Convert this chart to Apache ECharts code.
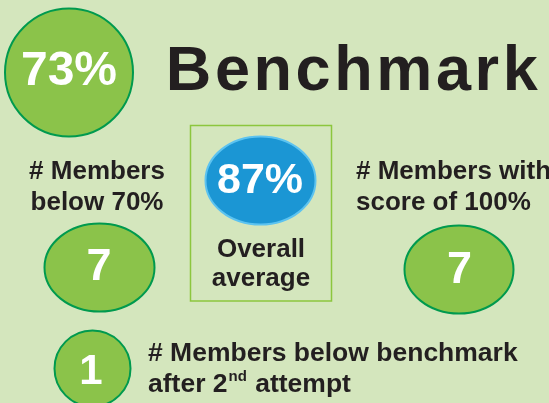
<!DOCTYPE html>
<html>
<head>
<meta charset="utf-8">
<script src="https://cdn.jsdelivr.net/npm/echarts@6/dist/echarts.min.js"></script>
<style>
  html, body { margin: 0; padding: 0; background: #d4e6bd; }
  #main { width: 549px; height: 403px; }
</style>
</head>
<body>
<div id="main"></div>
<script>
// values shown in the badges
const benchmark = ['73%'];
const overallAverage = ['87%'];
const memberCounts = [7, 7, 1];

// captions
const title = 'Benchmark';
const averageLabel = 'Overall\naverage';
const countLabels = [
  '# Members\nbelow 70%',
  '# Members with\nscore of 100%',
  '# Members below benchmark\nafter 2{sup|nd} attempt'
];

const FONT = '"Liberation Sans", Arial, Helvetica, sans-serif';
const DARK = '#231f20';
const GREEN = '#8bc34a';
const GREEN_EDGE = '#009a4e';
const BLUE = '#1b96d4';
const BLUE_EDGE = '#5cc3f0';

// spaced-out title, one token per letter
const spacedTitle = title.split('').map(c => '{l|' + c + '}').join('');

let chart = echarts.init(document.getElementById('main'), null, { renderer: 'canvas' });

let option = {
  backgroundColor: '#d4e6bd',
  animation: false,
  graphic: [
    // 73% badge
    {
      type: 'circle',
      shape: { cx: 69, cy: 72.5, r: 64 },
      style: { fill: GREEN, stroke: GREEN_EDGE, lineWidth: 2 }
    },
    {
      type: 'text',
      style: {
        text: benchmark[0], x: 69, y: 72,
        align: 'center', verticalAlign: 'middle',
        fontFamily: FONT, fontWeight: 'bold', fontSize: 48, fill: '#fff'
      }
    },
    {
      type: 'text',
      style: {
        text: spacedTitle, x: 164, y: 73,
        align: 'left', verticalAlign: 'middle',
        rich: {
          l: { fontFamily: FONT, fontWeight: 'bold', fontSize: 63, fill: DARK, padding: [0, 1.8, 0, 1.8] }
        }
      }
    },
    // overall average box
    {
      type: 'rect',
      shape: { x: 190.5, y: 125.5, width: 141, height: 175.5 },
      style: { fill: 'none', stroke: '#8cc63e', lineWidth: 1.5 }
    },
    {
      type: 'ellipse',
      shape: { cx: 260.5, cy: 180.5, rx: 55, ry: 44 },
      style: { fill: BLUE, stroke: BLUE_EDGE, lineWidth: 2 }
    },
    {
      type: 'text',
      style: {
        text: overallAverage[0], x: 260, y: 181.5,
        align: 'center', verticalAlign: 'middle',
        fontFamily: FONT, fontWeight: 'bold', fontSize: 43, fill: '#fff'
      }
    },
    {
      type: 'text',
      style: {
        text: averageLabel, x: 261, y: 264,
        align: 'center', verticalAlign: 'middle', lineHeight: 29,
        fontFamily: FONT, fontWeight: 'bold', fontSize: 26, fill: DARK
      }
    },
    // members below 70%
    {
      type: 'text',
      style: {
        text: countLabels[0], x: 97, y: 187,
        align: 'center', verticalAlign: 'middle', lineHeight: 31,
        fontFamily: FONT, fontWeight: 'bold', fontSize: 26, fill: DARK
      }
    },
    {
      type: 'ellipse',
      shape: { cx: 99.5, cy: 267.5, rx: 55, ry: 44 },
      style: { fill: GREEN, stroke: GREEN_EDGE, lineWidth: 2 }
    },
    {
      type: 'text',
      style: {
        text: String(memberCounts[0]), x: 99, y: 268,
        align: 'center', verticalAlign: 'middle',
        fontFamily: FONT, fontWeight: 'bold', fontSize: 45, fill: '#fff'
      }
    },
    // members with 100%
    {
      type: 'text',
      style: {
        text: countLabels[1], x: 356, y: 187,
        align: 'left', verticalAlign: 'middle', lineHeight: 31,
        fontFamily: FONT, fontWeight: 'bold', fontSize: 26, fill: DARK
      }
    },
    {
      type: 'ellipse',
      shape: { cx: 459, cy: 269.5, rx: 54.5, ry: 44 },
      style: { fill: GREEN, stroke: GREEN_EDGE, lineWidth: 2 }
    },
    {
      type: 'text',
      style: {
        text: String(memberCounts[1]), x: 459.5, y: 271,
        align: 'center', verticalAlign: 'middle',
        fontFamily: FONT, fontWeight: 'bold', fontSize: 45, fill: '#fff'
      }
    },
    // members below benchmark after 2nd attempt
    {
      type: 'circle',
      shape: { cx: 92.5, cy: 368.5, r: 38 },
      style: { fill: GREEN, stroke: GREEN_EDGE, lineWidth: 2 }
    },
    {
      type: 'text',
      style: {
        text: String(memberCounts[2]), x: 91, y: 372,
        align: 'center', verticalAlign: 'middle',
        fontFamily: FONT, fontWeight: 'bold', fontSize: 42, fill: '#fff'
      }
    },
    {
      type: 'text',
      style: {
        text: countLabels[2], x: 148, y: 369,
        align: 'left', verticalAlign: 'middle', lineHeight: 31,
        fontFamily: FONT, fontWeight: 'bold', fontSize: 26.5, fill: DARK,
        rich: {
          sup: {
            fontFamily: FONT, fontWeight: 'bold', fontSize: 15, fill: DARK,
            verticalAlign: 'top', lineHeight: 31, padding: [0, 1, 0, 1]
          }
        }
      }
    }
  ]
};

chart.setOption(option);
window.addEventListener('resize', () => { chart.resize(); });
</script>
</body>
</html>
